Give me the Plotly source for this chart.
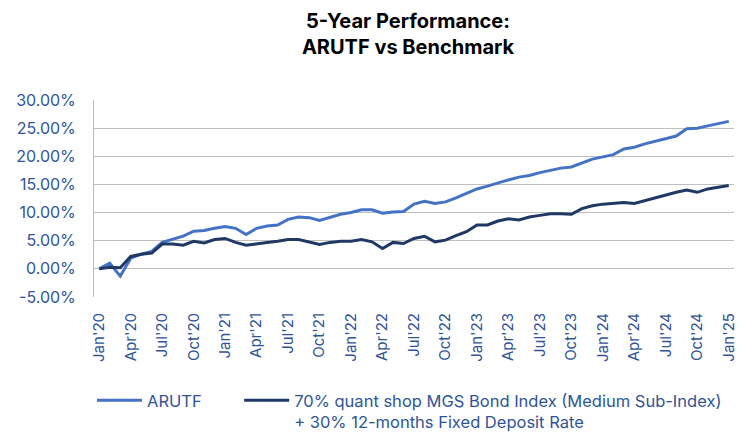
import plotly.graph_objects as go

months = ["Jan", "Feb", "Mar", "Apr", "May", "Jun", "Jul", "Aug", "Sep", "Oct", "Nov", "Dec"]
years = ["20", "21", "22", "23", "24", "25"]
categories = [f"{m}'{y}" for y in years for m in months][:61]

arutf = [
    0.0, 1.0, -1.3, 1.9, 2.6, 3.1, 4.7, 5.3, 5.8, 6.7, 6.8, 7.2,
    7.5, 7.2, 6.1, 7.2, 7.6, 7.8, 8.8, 9.2, 9.1, 8.6, 9.2, 9.7,
    10.0, 10.5, 10.5, 9.9, 10.1, 10.2, 11.5, 12.0, 11.6, 11.9, 12.6, 13.4,
    14.2, 14.7, 15.3, 15.8, 16.3, 16.6, 17.1, 17.5, 17.9, 18.1, 18.8, 19.5,
    19.9, 20.3, 21.3, 21.6, 22.2, 22.7, 23.2, 23.6, 24.9, 25.0, 25.4, 25.8,
    26.2,
]
benchmark = [
    0.0, 0.3, 0.2, 2.2, 2.6, 2.8, 4.4, 4.4, 4.2, 4.9, 4.6, 5.2,
    5.4, 4.7, 4.2, 4.5, 4.7, 4.9, 5.2, 5.2, 4.8, 4.35, 4.7, 4.9,
    4.9, 5.2, 4.8, 3.6, 4.7, 4.5, 5.4, 5.8, 4.8, 5.1, 5.9, 6.6,
    7.8, 7.8, 8.5, 8.9, 8.7, 9.2, 9.5, 9.8, 9.8, 9.7, 10.7, 11.2,
    11.5, 11.6, 11.8, 11.6, 12.1, 12.6, 13.2, 13.6, 14.0, 13.6, 14.2, 14.5,
    14.8,
]
series_names = [
    "ARUTF",
    "70% quant shop MGS Bond Index (Medium Sub-Index)<br>+ 30% 12-months Fixed Deposit Rate",
]
tick_labels = categories[::3]
y_ticks = [-5, 0, 5, 10, 15, 20, 25, 30]

x_idx = list(range(len(categories)))
pad = "\u00a0" * 7

fig = go.Figure()
fig.add_trace(go.Scatter(
    x=x_idx, y=arutf, mode="lines", name=series_names[0] + pad,
    line=dict(color="#4472C4", width=3),
))
fig.add_trace(go.Scatter(
    x=x_idx, y=benchmark, mode="lines", name=series_names[1],
    line=dict(color="#1F3864", width=3),
))

tick_color = "#2F5597"
font_family = "Inter, Liberation Sans, Arial, sans-serif"

fig.update_layout(
    width=744, height=432,
    margin=dict(l=94, r=10, t=100, b=135, autoexpand=False),
    paper_bgcolor="white", plot_bgcolor="white",
    font=dict(family=font_family, color=tick_color, size=14),
    title=dict(
        text="<b>5-Year Performance:<br>ARUTF vs Benchmark</b>",
        x=408 / 744, xref="container", xanchor="center",
        y=1 - 28 / 432, yref="container", yanchor="middle",
        font=dict(family=font_family, size=20, color="black"),
    ),
    showlegend=True,
    legend=dict(
        orientation="h",
        xref="container", yref="container",
        x=92 / 744, xanchor="left",
        y=1 - 383 / 432, yanchor="top",
        valign="top",
        itemwidth=45,
        font=dict(family=font_family, size=16.5, color=tick_color),
        bgcolor="rgba(0,0,0,0)",
    ),
    xaxis=dict(
        range=[-0.5, len(categories) - 0.5],
        tickmode="array",
        tickvals=x_idx[::3],
        ticktext=tick_labels,
        tickangle=-90,
        showgrid=False,
        showline=False,
        zeroline=False,
        ticks="",
        tickfont=dict(size=15, color=tick_color),
        ticklabelstandoff=12,
        automargin=False,
        fixedrange=True,
    ),
    yaxis=dict(
        range=[-5, 30],
        tickvals=y_ticks,
        ticktext=[f"{v:.2f}%" for v in y_ticks],
        showgrid=True,
        gridcolor="#BFBFBF",
        gridwidth=1,
        zeroline=False,
        showline=True,
        linecolor="#BFBFBF",
        linewidth=1,
        ticks="",
        tickfont=dict(size=16, color=tick_color),
        ticklabelstandoff=14,
        automargin=False,
        fixedrange=True,
    ),
)

fig.write_html(
    "out.html",
    config={"displayModeBar": False},
    post_script="document.body.style.margin='0';",
)
